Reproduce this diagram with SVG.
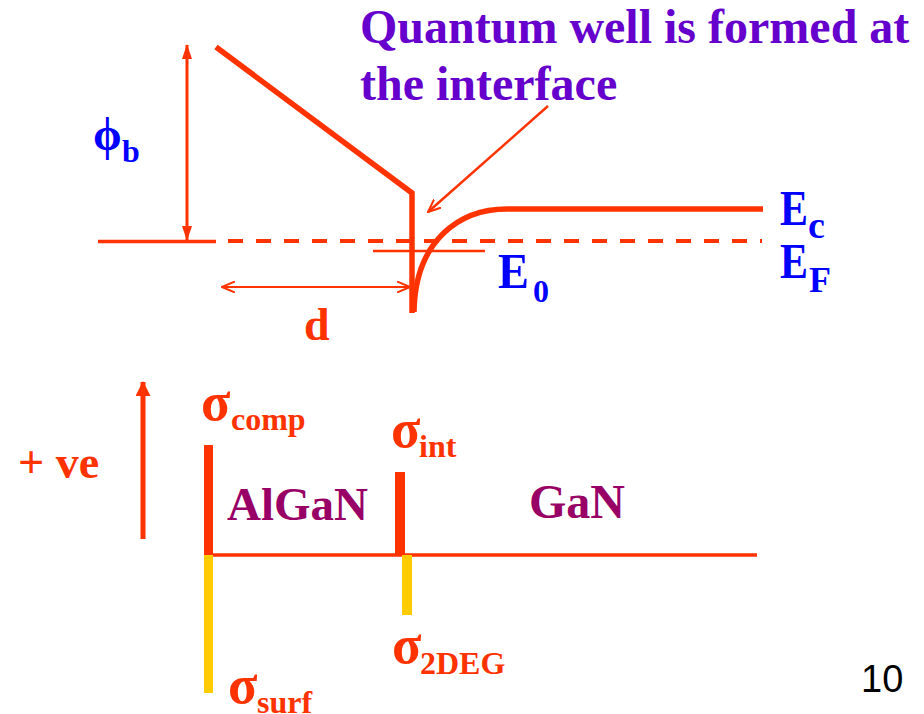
<svg xmlns="http://www.w3.org/2000/svg" width="924" height="714" viewBox="0 0 924 714">
<style>
.t{font-family:"Liberation Serif","DejaVu Serif",serif;font-weight:bold}
.red{fill:#FF3300}
.blue{fill:#0000FF}
.purple{fill:#6600CC}
.mag{fill:#990066}
.ln{stroke:#FF3300;fill:none}
</style>
<defs>
<marker id="fill" viewBox="0 0 15 10" refX="14" refY="5" markerWidth="15" markerHeight="10" markerUnits="userSpaceOnUse" orient="auto-start-reverse">
<path d="M0,0 L15,5 L0,10 Z" fill="#FF3300"/>
</marker>
<marker id="fillbig" viewBox="0 0 15 15" refX="14" refY="7.5" markerWidth="15" markerHeight="15" markerUnits="userSpaceOnUse" orient="auto">
<path d="M0,0 L15,7.5 L0,15 Z" fill="#FF3300"/>
</marker>
<marker id="open" viewBox="0 0 14 12" refX="13" refY="6" markerWidth="14" markerHeight="12" markerUnits="userSpaceOnUse" orient="auto-start-reverse">
<path d="M0,0.5 L13,6 L0,11.5" fill="none" stroke="#FF3300" stroke-width="2"/>
</marker>
</defs>
<rect width="924" height="714" fill="#fff"/>

<g id="band-diagram">
<line class="ln" x1="98" y1="241.5" x2="216" y2="241.5" stroke-width="3.5"/>
<line class="ln" x1="228" y1="241" x2="762" y2="241" stroke-width="4" stroke-dasharray="15 13"/>
<polyline class="ln" points="216,47 412,193 412,313" stroke-width="5.5" stroke-linejoin="miter"/>
<path class="ln" d="M 763 209 L 507 209 C 460 209, 415 240, 414 312" stroke-width="5.5"/>
<line class="ln" x1="373" y1="251" x2="485" y2="251" stroke-width="2.5"/>
</g>

<g id="connectors">
<line class="ln" x1="187" y1="240" x2="187" y2="45" stroke-width="3" marker-end="url(#fill)" marker-start="url(#fill)"/>
<line class="ln" x1="222" y1="287" x2="410" y2="287" stroke-width="2" marker-start="url(#open)" marker-end="url(#open)"/>
<line class="ln" x1="548" y1="106" x2="428" y2="212" stroke-width="2.5" marker-end="url(#open)"/>
<line class="ln" x1="143" y1="539" x2="143" y2="382" stroke-width="5" marker-end="url(#fillbig)"/>
</g>

<g id="title">
<text class="t purple" x="360" y="43" font-size="48">Quantum well is formed at</text>
<text class="t purple" x="360" y="100" font-size="48">the interface</text>
</g>

<g id="label-phib">
<text class="t blue" x="93" y="150" font-size="46">ϕ</text>
<text class="t blue" x="122" y="162" font-size="32">b</text>
</g>
<g id="label-d"><text class="t red" x="304" y="340" font-size="46">d</text></g>
<g id="label-E0">
<text class="t blue" x="498" y="288" font-size="50" textLength="31" lengthAdjust="spacingAndGlyphs">E</text>
<text class="t blue" x="533" y="302" font-size="32">0</text>
</g>
<g id="label-Ec">
<text class="t blue" x="780" y="225" font-size="50" textLength="28" lengthAdjust="spacingAndGlyphs">E</text>
<text class="t blue" x="808" y="238" font-size="38">c</text>
</g>
<g id="label-EF">
<text class="t blue" x="780" y="278" font-size="50" textLength="28" lengthAdjust="spacingAndGlyphs">E</text>
<text class="t blue" x="809" y="292" font-size="36">F</text>
</g>

<g id="charge-diagram">
<line class="ln" x1="213" y1="555" x2="757" y2="555" stroke-width="3.5"/>
<rect x="204" y="445" width="9" height="110" fill="#FF3300"/>
<rect x="204" y="555" width="9" height="138" fill="#FFCC00"/>
<rect x="395" y="472" width="10" height="83" fill="#FF3300"/>
<rect x="402" y="555" width="10" height="60" fill="#FFCC00"/>
</g>

<g id="label-ve"><text class="t red" x="18" y="478" font-size="46">+ ve</text></g>
<g id="label-AlGaN"><text class="t mag" x="227" y="520" font-size="47">AlGaN</text></g>
<g id="label-GaN"><text class="t mag" x="529" y="518" font-size="48">GaN</text></g>
<g id="label-sigma-comp">
<text class="t red" x="201" y="420" font-size="54">σ</text>
<text class="t red" x="231" y="430" font-size="32">comp</text>
</g>
<g id="label-sigma-int">
<text class="t red" x="391" y="447" font-size="54">σ</text>
<text class="t red" x="419" y="457" font-size="32">int</text>
</g>
<g id="label-sigma-2deg">
<text class="t red" x="392" y="663" font-size="54">σ</text>
<text class="t red" x="420" y="674" font-size="32">2DEG</text>
</g>
<g id="label-sigma-surf">
<text class="t red" x="228" y="703" font-size="54">σ</text>
<text class="t red" x="257" y="713" font-size="32">surf</text>
</g>
<g id="page-number"><text x="861" y="692" font-size="38" font-family="'Liberation Sans',Arial,sans-serif" fill="#000">10</text></g>
</svg>
